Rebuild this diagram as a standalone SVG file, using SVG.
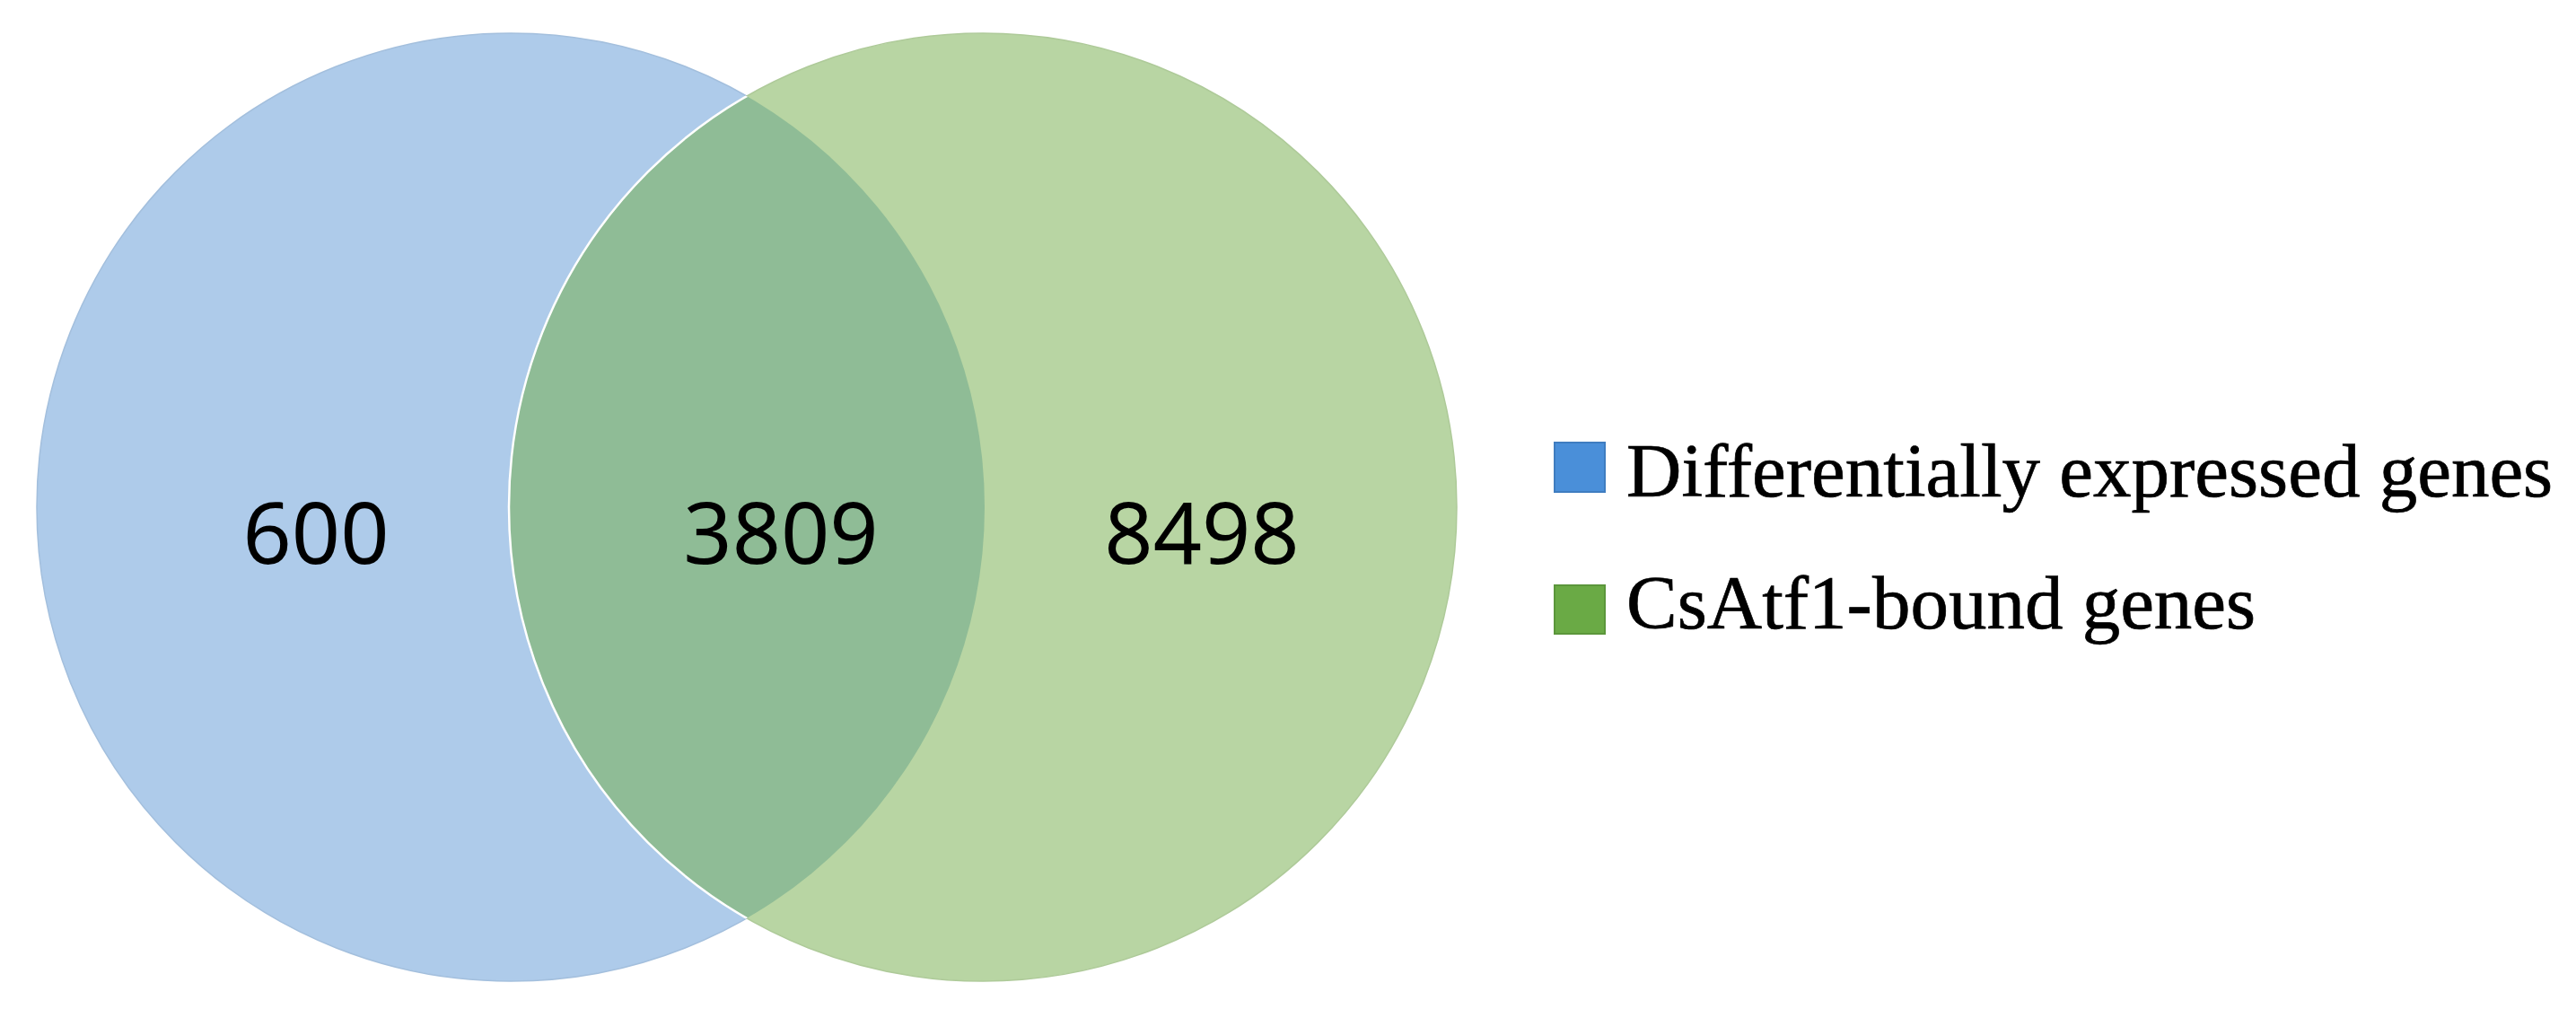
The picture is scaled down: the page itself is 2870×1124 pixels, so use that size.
<svg xmlns="http://www.w3.org/2000/svg" width="2870" height="1124" viewBox="0 0 2870 1124">
  <style>
    .num { font-family: "Noto Sans", "Open Sans", sans-serif; font-size: 95px; fill: #000; text-anchor: middle; }
    .leg { font-family: "Liberation Serif", "Times New Roman", serif; font-size: 85px; fill: #000; stroke: #000; stroke-width: 0.7px; }
  </style>
  <defs>
    <clipPath id="clipBlue">
      <circle cx="569" cy="565" r="528"/>
    </clipPath>
  </defs>
  <rect x="0" y="0" width="2870" height="1124" fill="#ffffff"/>
  <g id="set-blue">
    <circle cx="569" cy="565" r="528" fill="#AECBEA" stroke="#A3BFDD" stroke-width="1.5"/>
  </g>
  <g id="set-green">
    <circle cx="1095" cy="565" r="528" fill="#B8D5A3" stroke="#AECA99" stroke-width="1.5"/>
  </g>
  <g id="overlap">
    <circle cx="1095" cy="565" r="528" fill="#8FBC96" clip-path="url(#clipBlue)"/>
    <circle cx="1095" cy="565" r="528" fill="none" stroke="#ffffff" stroke-width="2.5" clip-path="url(#clipBlue)"/>
  </g>
  <g id="labels">
    <text class="num" x="352" y="628">600</text>
    <text class="num" x="870" y="628">3809</text>
    <text class="num" x="1339" y="628">8498</text>
  </g>
  <g id="legend">
    <g id="legend-blue">
      <rect x="1732" y="493" width="56" height="55" fill="#4A8FD9" stroke="#3F7DC0" stroke-width="2"/>
      <text class="leg" x="1812" y="553">Differentially expressed genes</text>
    </g>
    <g id="legend-green">
      <rect x="1732" y="652" width="56" height="54" fill="#6AAA45" stroke="#5B963B" stroke-width="2"/>
      <text class="leg" x="1812" y="700">CsAtf1-bound genes</text>
    </g>
  </g>
  <g id="connectors"></g>
</svg>
